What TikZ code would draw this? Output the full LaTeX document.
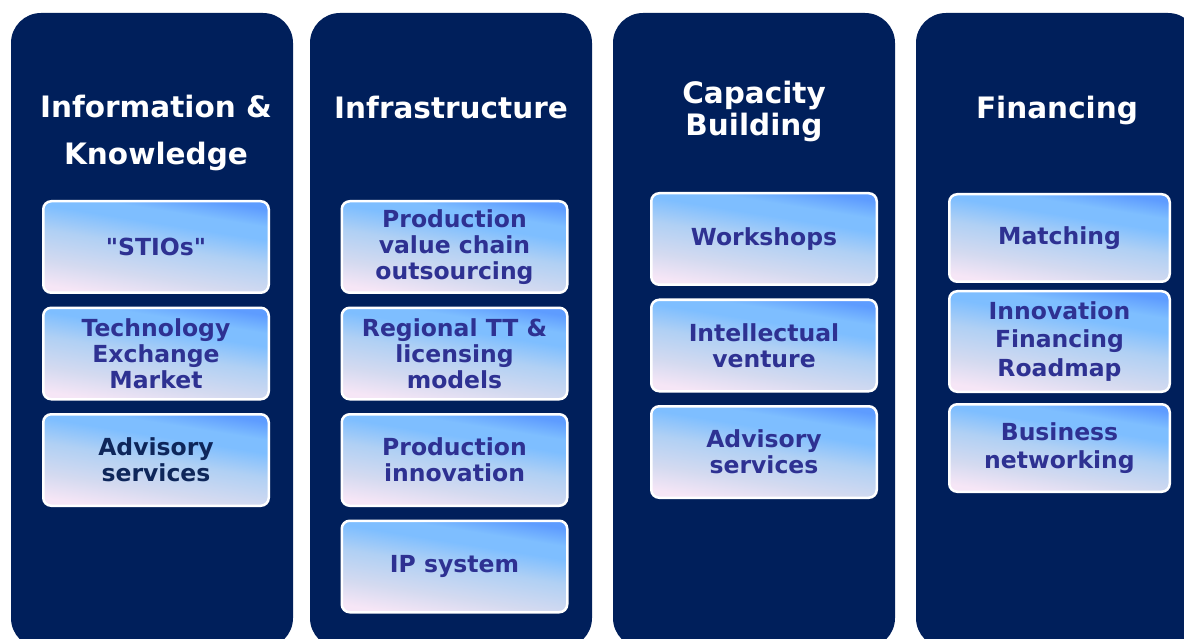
\documentclass[tikz,border=0pt]{standalone}
\usepackage{fontspec}
\setmainfont{DejaVu Sans}[Ligatures=TeXOff]
\usetikzlibrary{positioning}

\definecolor{navy}{RGB}{0,31,91}
\definecolor{itemtext}{RGB}{46,49,146}
\definecolor{itemdark}{RGB}{14,38,90}
\definecolor{shadetop}{RGB}{94,156,255}
\definecolor{shadesky}{RGB}{126,190,255}
\definecolor{shadelow}{RGB}{176,208,244}
\definecolor{shadepale}{RGB}{212,218,240}
\definecolor{shadebot}{RGB}{246,230,246}
\pgfdeclareverticalshading{itemshade}{100bp}{color(0bp)=(shadebot); color(25bp)=(shadebot);
  color(36bp)=(shadepale); color(50bp)=(shadelow); color(61bp)=(shadesky); color(67bp)=(shadesky); color(75bp)=(shadetop); color(100bp)=(shadetop)}

\begin{document}
\begin{tikzpicture}[x=1pt, y=-1pt, node distance=12.5pt,
    pillar/.style = {fill=navy, rounded corners=30pt, minimum width=282pt, minimum height=635pt, inner sep=0pt},
    head/.style = {text=white, font=\fontsize{29.5}{47}\selectfont\bfseries, align=center},
    item/.style = {draw=white, line width=2.5pt, rounded corners=8pt, minimum width=225.5pt, minimum height=91.5pt, inner sep=0pt,
                   shading=itemshade, shading angle=-9,
                   text=itemtext, font=\fontsize{23.5}{26}\selectfont\bfseries, align=center}]
        \clip (0,0) rectangle (1184,639);
        % columns
        \node[pillar] (col1) at (152,330.5) {};
        \node[pillar] (col2) at (451,330.5) {};
        \node[pillar] (col3) at (754,330.5) {};
        \node[pillar] (col4) at (1057,330.5) {};
        % headings
        \node[head] (h1) at (156,133) {Information \&\\Knowledge};
        \node[head] (h2) at (451,108) {Infrastructure};
        \node[head, font=\fontsize{29.5}{32}\selectfont\bfseries] (h3) at (754,111) {Capacity\\Building};
        \node[head] (h4) at (1057,110) {Financing};
        % Information & Knowledge
        \node[item] (k1) at (156,247) {"STIOs"};
        \node[item] (k2) [below=of k1] {Technology\\Exchange\\Market};
        \node[item, text=itemdark] (k3) [below=of k2] {Advisory\\services};
        % Infrastructure
        \node[item] (i1) at (454.5,247) {Production\\value chain\\outsourcing};
        \node[item] (i2) [below=of i1] {Regional TT \&\\licensing\\models};
        \node[item] (i3) [below=of i2] {Production\\innovation};
        \node[item] (i4) [below=of i3] {IP system};
        % Capacity Building
        \node[item] (c1) at (764,239) {Workshops};
        \node[item] (c2) [below=of c1] {Intellectual\\venture};
        \node[item] (c3) [below=of c2] {Advisory\\services};
        % Financing
        \node[item, minimum width=220.5pt, minimum height=87.5pt] (f1) at (1059.5,238) {Matching};
        \node[item, minimum width=220.5pt, minimum height=100.5pt, font=\fontsize{23.5}{28.5}\selectfont\bfseries] (f2) [below=7pt of f1] {Innovation\\Financing\\Roadmap};
        \node[item, minimum width=220.5pt, minimum height=87.5pt, font=\fontsize{23.5}{28}\selectfont\bfseries] (f3) [below=10pt of f2] {Business\\networking};
\end{tikzpicture}
\end{document}
